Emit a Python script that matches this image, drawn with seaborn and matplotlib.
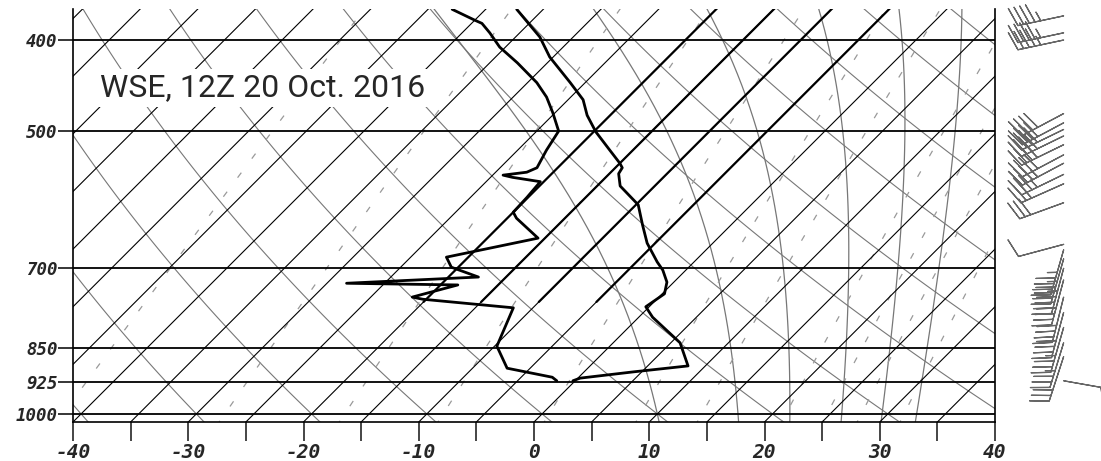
import numpy as np
import matplotlib
matplotlib.use("Agg")
import matplotlib.pyplot as plt
from matplotlib.ticker import NullLocator
import seaborn as sns

# sounding (hPa, degC)
temp_p = [371, 397, 417, 444, 463, 481, 501, 524, 541, 547, 555, 572, 599, 629, 658,
          689, 703, 724, 745, 769, 789, 840, 889, 902, 916, 922]
temp_t = [-37.3, -32.9, -30.3, -26.3, -23.7, -22.0, -19.8, -17.0, -15.0, -14.4, -14.2,
          -13.0, -9.8, -7.7, -5.7, -3.2, -2.0, -0.6, 0.2, -0.3, 1.2, 5.8, 8.5, 4.3, 0.2, -0.2]

dwpt_p = [371, 381, 384, 393, 407, 423, 444, 460, 478, 500, 524, 547, 553, 557, 560, 566,
          588, 610, 619, 650, 681, 698, 715, 726, 729, 751, 755, 771, 847, 894, 914, 922]
dwpt_t = [-42.9, -40.0, -39.1, -37.6, -35.5, -32.6, -29.2, -27.1, -25.2, -23.1, -22.5,
          -21.8, -22.3, -24.1, -23.1, -20.3, -20.1, -20.0, -19.2, -15.6, -21.9, -20.6,
          -17.4, -28.3, -18.5, -21.4, -20.3, -11.7, -9.8, -7.0, -2.3, -1.6]

# winds (hPa, deg, kt)
wind_p = [377, 393, 400, 479, 490, 498, 506, 517, 530, 541, 556, 569, 596, 660,
          669, 684, 700, 720, 751, 780, 809, 840, 869, 922]
wind_dir = [258, 258, 258, 242, 242, 244, 244, 244, 242, 242, 244, 246, 250, 255,
            196, 196, 195, 195, 194, 195, 196, 197, 198, 100]
wind_spd = [45, 45, 45, 40, 40, 40, 40, 40, 40, 35, 35, 30, 30, 10,
            45, 45, 45, 40, 40, 40, 35, 35, 30, 5]

isobars = [400, 500, 700, 850, 925, 1000]
dark_isotherms = [-20, -15, -10, -5]
mixing_ratios = [0.1, 0.4, 1, 2, 4, 7, 10, 16, 20, 24, 30]
moist_thetaw = [10, 17, 21.5, 26, 29.5, 32.5]
title = "WSE, 12Z 20 Oct. 2016"

P_BOT, P_TOP = 1020, 370.7
SKEW = 35.4


def skew_x(t, p):
    return np.asarray(t, float) + SKEW * np.log(P_BOT / np.asarray(p, float))


def moist_adiabat(t0, pp):
    # pseudo-adiabat from t0 (degC) at 1000 hPa, integrated in small steps
    Rd, cp, Lv, eps = 287.04, 1005.7, 2.501e6, 0.622

    def slope(t, p):
        es = 6.112 * np.exp(17.67 * (t - 273.15) / (t - 29.65))
        rs = eps * es / (p - es)
        return (Rd * t + Lv * rs) / p / (cp + Lv * Lv * rs * eps / (Rd * t * t))

    out = []
    for target in pp:
        t, p = t0 + 273.15, 1000.0
        n = max(int(abs(target - p) / 2) + 1, 1)
        dp = (target - p) / n
        for _ in range(n):
            k1 = slope(t, p)
            k2 = slope(t + 0.5 * dp * k1, p + 0.5 * dp)
            t += dp * k2
            p += dp
        out.append(t - 273.15)
    return np.array(out)


sns.set_style("white")
fig = plt.figure(figsize=(11.01, 4.61), dpi=100)
ax = fig.add_axes([73 / 1101, 39 / 461, 922 / 1101, 413 / 461])

pp = np.geomspace(1030, 360, 120)

for t in range(-80, 45, 5):
    ax.plot(skew_x(t, pp), pp, color="black", lw=0.8, zorder=2)

# a few isotherms are drawn heavier in the upper part
pd_ = np.geomspace(760, 360, 60)
for t in dark_isotherms:
    ax.plot(skew_x(t, pd_), pd_, color="black", lw=1.6, zorder=3)

for th in range(-40, 110, 10):
    tt = (th + 273.15) * (pp / 1000.0) ** 0.2857 - 273.15
    ax.plot(skew_x(tt, pp), pp, color="#777777", lw=0.8, zorder=1)

pm = np.geomspace(1030, 360, 40)
for tw in moist_thetaw:
    ax.plot(skew_x(moist_adiabat(tw, pm), pm), pm, color="#777777", lw=0.9, zorder=1)

for w in mixing_ratios:
    e = w * pp / (622.0 + w)
    le = np.log(e / 6.112)
    td = 243.5 * le / (17.67 - le)
    ax.plot(skew_x(td, pp), pp, color="#999999", lw=0.9, dashes=(5, 14), zorder=1)

for p in isobars:
    ax.axhline(p, color="black", lw=1.3, zorder=2)

sns.lineplot(x=skew_x(temp_t, temp_p), y=temp_p, sort=False, estimator=None,
             color="black", lw=2.0, ax=ax, zorder=4)
sns.lineplot(x=skew_x(dwpt_t, dwpt_p), y=dwpt_p, sort=False, estimator=None,
             color="black", lw=2.0, ax=ax, zorder=4)

ax.set_yscale("log")
ax.set_ylim(P_BOT, P_TOP)
ax.set_xlim(-40, 40)
ax.yaxis.set_minor_locator(NullLocator())
ax.set_yticks(isobars)
ax.set_yticklabels([str(p) for p in isobars])
xt = list(range(-40, 41, 5))
ax.set_xticks(xt)
ax.set_xticklabels([str(t) if t % 10 == 0 else "" for t in xt])
ax.set_xlabel("")
ax.set_ylabel("")
ax.tick_params(axis="y", direction="out", length=11, width=1.3, pad=0, left=True)
ax.tick_params(axis="x", direction="out", length=14, width=1.2, pad=1, bottom=True)
for lab in ax.get_yticklabels():
    lab.set_fontfamily("DejaVu Sans Mono")
    lab.set_fontstyle("oblique")
    lab.set_fontweight("bold")
    lab.set_fontsize(12.5)
for lab in ax.get_xticklabels():
    lab.set_fontfamily("DejaVu Sans Mono")
    lab.set_fontstyle("oblique")
    lab.set_fontweight("bold")
    lab.set_fontsize(14)
ax.spines["top"].set_visible(False)
for s in ["left", "right", "bottom"]:
    ax.spines[s].set_color("black")
    ax.spines[s].set_linewidth(1.2)

ax.text(0.029, 0.809, title, transform=ax.transAxes, fontsize=23, family="Roboto",
        va="center", ha="left", zorder=6,
        bbox=dict(facecolor="white", edgecolor="none", pad=3))

# wind barbs to the right of the diagram
bax = fig.add_axes([1000 / 1101, 39 / 461, 101 / 1101, 413 / 461])
bax.set_yscale("log")
bax.set_ylim(P_BOT, P_TOP)
bax.set_xlim(0, 1)
bax.axis("off")
d = np.radians(wind_dir)
spd = np.asarray(wind_spd, float)
u = -spd * np.sin(d)
v = -spd * np.cos(d)
bax.barbs(np.full(len(wind_p), 0.63), wind_p, u, v, length=8.2, color="#666666",
          linewidth=0.9, clip_on=False)

fig.savefig("out.png", dpi=100)
